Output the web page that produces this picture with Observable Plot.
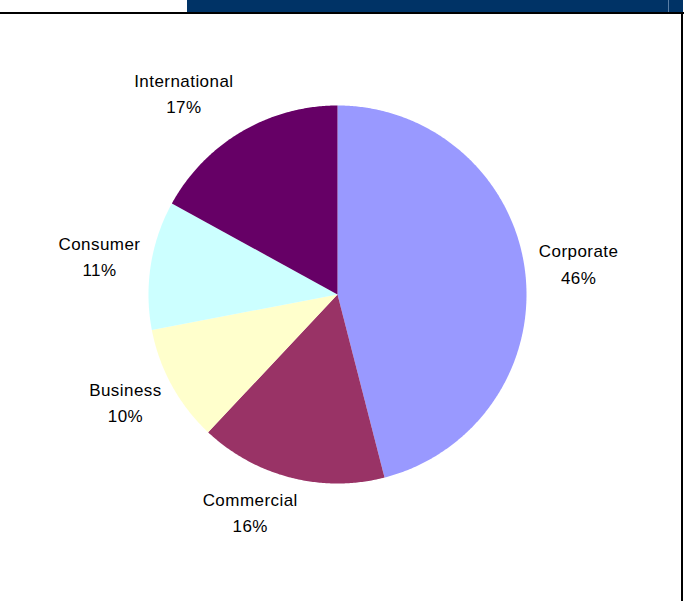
<!DOCTYPE html>
<html>
<head>
<meta charset="utf-8">
<script src="https://cdn.jsdelivr.net/npm/d3@7"></script>
<script src="https://cdn.jsdelivr.net/npm/@observablehq/plot@0.6"></script>
<style>
  html, body { margin: 0; padding: 0; background: #fff; }
  #wrap { position: relative; width: 685px; height: 601px; overflow: hidden; background: #fff; }
  #chart { position: absolute; left: 0; top: 0; }
  .bar { position: absolute; left: 187px; top: 0; width: 496px; height: 12px; background: #003366; }
  .barline { position: absolute; left: 668px; top: 0; width: 1px; height: 12px; background: #5a7fa6; }
  .hline { position: absolute; left: 0; top: 12px; width: 684px; height: 2px; background: #000; }
  .vline { position: absolute; left: 681px; top: 12px; width: 2px; height: 589px; background: #000; }
  #chart text { letter-spacing: 0.45px; }
</style>
</head>
<body>
<div id="wrap">
  <div id="chart"></div>
  <div class="bar"></div>
  <div class="barline"></div>
  <div class="hline"></div>
  <div class="vline"></div>
</div>
<script>
// ---- data ----
const categories = ["Corporate", "Commercial", "Business", "Consumer", "International"];
const shares = [46, 16, 10, 11, 17];

// ---- layout / style ----
const sliceColors = ["#9999FF", "#993366", "#FFFFCC", "#CCFFFF", "#660066"];
const radius = 189;
const labelRadius = {Corporate: 243, Commercial: 235, Business: 238, Consumer: 241, International: 253};
const labelAngleShift = {Corporate: 0, Commercial: 7.4, Business: 1.8, Consumer: 0, International: -6.8};

const total = d3.sum(shares);
const slices = [];
const labels = [];
let start = 0;
categories.forEach((cat, i) => {
  const a0 = start / total * 360;
  const a1 = (start + shares[i]) / total * 360;
  start += shares[i];
  const pts = [{cat, x: 0, y: 0}];
  const n = Math.max(2, Math.ceil((a1 - a0) / 0.5));
  for (let k = 0; k <= n; k++) {
    const a = (a0 + (a1 - a0) * k / n) * Math.PI / 180;
    pts.push({cat, x: radius * Math.sin(a), y: radius * Math.cos(a)});
  }
  pts.push({cat, x: 0, y: 0});
  slices.push(...pts);
  const am = ((a0 + a1) / 2 + labelAngleShift[cat]) * Math.PI / 180;
  const lr = labelRadius[cat];
  labels.push({cat, share: shares[i], x: lr * Math.sin(am), y: lr * Math.cos(am)});
});

const chart = Plot.plot({
  width: 685,
  height: 601,
  margin: 0,
  x: {domain: [-337, 348], axis: null},
  y: {domain: [-307, 294], axis: null},
  color: {type: "ordinal", domain: categories, range: sliceColors},
  style: {background: "transparent", fontFamily: "'Liberation Sans', Arial, sans-serif"},
  marks: [
    Plot.line(slices, {x: "x", y: "y", z: "cat", fill: "cat", stroke: "none", curve: "linear"}),
    Plot.text(labels, {
      x: "x", y: "y",
      text: d => `${d.cat}\n${d.share}%`,
      fontSize: 17,
      lineHeight: 1.55,
      lineAnchor: "middle",
      textAnchor: "middle",
      dy: -2,
      fill: "#000"
    })
  ]
});
document.getElementById("chart").appendChild(chart);
</script>
</body>
</html>
